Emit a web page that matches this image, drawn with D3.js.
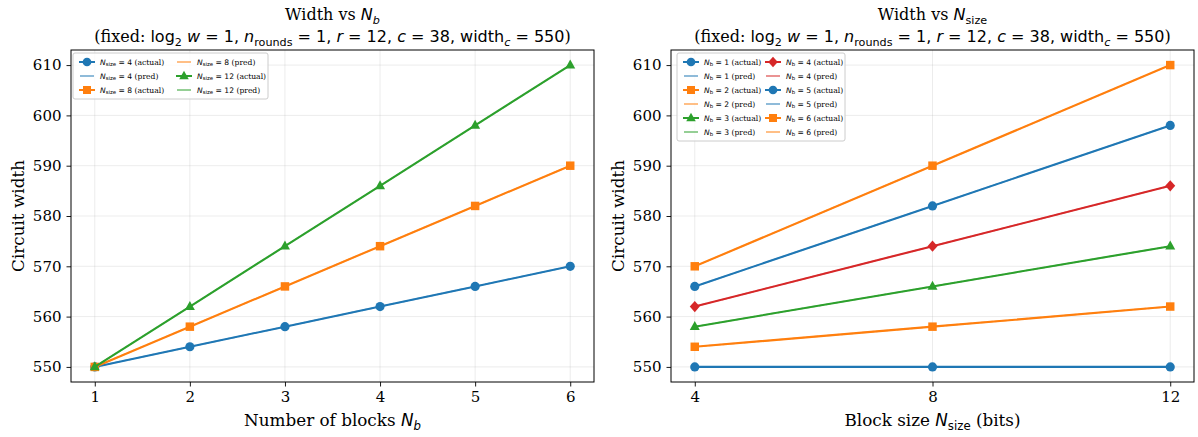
<!DOCTYPE html>
<html><head><meta charset="utf-8">
<script src="https://cdn.jsdelivr.net/npm/d3@7"></script>
<style>
body{margin:0;background:#fff;}
svg{display:block;}
</style></head>
<body>
<svg id="chart" width="1198" height="437"></svg>
<script>
// ---- data ----
const blocksX = [1, 2, 3, 4, 5, 6];
const sizeX = [4, 8, 12];
const yTicks = [550, 560, 570, 580, 590, 600, 610];

const nsizeLabels = ["4", "8", "12"];
const widthNsize4 = [550, 554, 558, 562, 566, 570];
const widthNsize8 = [550, 558, 566, 574, 582, 590];
const widthNsize12 = [550, 562, 574, 586, 598, 610];

const nbLabels = ["1", "2", "3", "4", "5", "6"];
const widthNb1 = [550, 550, 550];
const widthNb2 = [554, 558, 562];
const widthNb3 = [558, 566, 574];
const widthNb4 = [562, 574, 586];
const widthNb5 = [566, 582, 598];
const widthNb6 = [570, 590, 610];

const palette = ["#1f77b4", "#ff7f0e", "#2ca02c", "#d62728"];
const markerKinds = ["circle", "square", "triangle", "diamond"];

const svg = d3.select("#chart");
const SERIF = "'DejaVu Serif', serif";
const SANS = "'DejaVu Sans', sans-serif";

function markerPath(kind, k) {
  k = k || 1;
  if (kind === "circle") return d3.symbol(d3.symbolCircle, 66 * k * k)();
  if (kind === "square") return d3.symbol(d3.symbolSquare, 72 * k * k)();
  if (kind === "triangle") return `M0,${-5.6 * k}L${5 * k},${3.4 * k}L${-5 * k},${3.4 * k}Z`;
  return `M0,${-5.6 * k}L${5 * k},0L0,${5.6 * k}L${-5 * k},0Z`;
}

function richText(g, x, y, pieces, size, anchor) {
  const t = g.append("text").attr("x", x).attr("y", y)
    .attr("font-size", size).attr("text-anchor", anchor || "start").attr("fill", "#000");
  const sh = size * 0.22;
  let lowered = false;
  pieces.forEach(([txt, st]) => {
    const sp = t.append("tspan").text(txt);
    sp.attr("font-family", st === "s" ? SERIF : SANS);
    if (st === "i" || st === "subi") sp.attr("font-style", "italic");
    const isSub = st === "sub" || st === "subi";
    if (isSub) sp.attr("font-size", size * 0.7);
    if (isSub && !lowered) { sp.attr("dy", sh); lowered = true; }
    else if (!isSub && lowered) { sp.attr("dy", -sh); lowered = false; }
  });
  return t;
}

const subtitle = [["(fixed: ", "s"], ["log", "m"], ["2", "sub"], [" ", "m"],
  ["w", "i"], [" = 1, ", "m"], ["n", "i"], ["rounds", "sub"], [" = 1, ", "m"],
  ["r", "i"], [" = 12, ", "m"], ["c", "i"], [" = 38, width", "m"], ["c", "subi"],
  [" = 550", "m"], [")", "s"]];

function drawPanel(opts) {
  const { left, right, top, bottom, xDomain, xTicks, series, titleMain, xLabelPieces, legendCols, legendBox } = opts;
  const g = svg.append("g");
  const x = d3.scaleLinear().domain(xDomain).range([left, right]);
  const y = d3.scaleLinear().domain([547, 613]).range([bottom, top]);

  // grid
  g.append("g").selectAll("line").data(xTicks).join("line")
    .attr("x1", d => x(d)).attr("x2", d => x(d)).attr("y1", top).attr("y2", bottom)
    .attr("stroke", "#b0b0b0").attr("stroke-opacity", 0.3).attr("stroke-width", 0.8);
  g.append("g").selectAll("line").data(yTicks).join("line")
    .attr("y1", d => y(d)).attr("y2", d => y(d)).attr("x1", left).attr("x2", right)
    .attr("stroke", "#b0b0b0").attr("stroke-opacity", 0.3).attr("stroke-width", 0.8);

  // axes
  const xa = g.append("g").attr("transform", `translate(0,${bottom})`)
    .call(d3.axisBottom(x).tickValues(xTicks).tickFormat(d3.format("d")).tickSize(4.5).tickPadding(5));
  const ya = g.append("g").attr("transform", `translate(${left},0)`)
    .call(d3.axisLeft(y).tickValues(yTicks).tickFormat(d3.format("d")).tickSize(4.5).tickPadding(5));
  [xa, ya].forEach(a => {
    a.select(".domain").remove();
    a.selectAll("text").attr("font-family", SERIF).attr("font-size", 15).attr("fill", "#000");
    a.selectAll("line").attr("stroke", "#000").attr("stroke-width", 0.9);
  });
  g.append("rect").attr("x", left).attr("y", top).attr("width", right - left).attr("height", bottom - top)
    .attr("fill", "none").attr("stroke", "#000").attr("stroke-width", 1);

  const line = d3.line().x(d => x(d[0])).y(d => y(d[1]));
  series.forEach(s => {
    g.append("path").datum(s.xs.map((v, i) => [v, s.ys[i]])).attr("d", line)
      .attr("fill", "none").attr("stroke", s.color).attr("stroke-opacity", 0.5)
      .attr("stroke-width", 1.5).attr("stroke-dasharray", "5,2");
  });
  series.forEach(s => {
    const pts = s.xs.map((v, i) => [v, s.ys[i]]);
    g.append("path").datum(pts).attr("d", line)
      .attr("fill", "none").attr("stroke", s.color).attr("stroke-width", 2.1);
    g.append("g").selectAll("path").data(pts).join("path")
      .attr("transform", d => `translate(${x(d[0])},${y(d[1])})`)
      .attr("d", markerPath(s.marker)).attr("fill", s.color);
  });

  // titles
  const cx = (left + right) / 2;
  richText(g, cx, 20, titleMain, 16, "middle");
  richText(g, cx, 42, subtitle, 16, "middle");

  // x label
  richText(g, cx, 426, xLabelPieces, 16.8, "middle");
  // y label
  g.append("text").attr("transform", `translate(${left - 47},${(top + bottom) / 2}) rotate(-90)`)
    .attr("text-anchor", "middle").attr("font-family", SERIF).attr("font-size", 16.8).text("Circuit width");

  // legend
  const lb = legendBox;
  g.append("rect").attr("x", lb.x).attr("y", lb.y).attr("width", lb.w).attr("height", lb.h).attr("rx", 2)
    .attr("fill", "#fff").attr("fill-opacity", 0.8).attr("stroke", "#ccc").attr("stroke-width", 1);
  legendCols.forEach((col, ci) => {
    col.forEach((e, ri) => {
      const lx = lb.x + 6 + ci * lb.colW;
      const ly = lb.y + 9 + ri * 14;
      if (e.pred) {
        g.append("line").attr("x1", lx + 1).attr("x2", lx + 15).attr("y1", ly).attr("y2", ly)
          .attr("stroke", e.color).attr("stroke-opacity", 0.5).attr("stroke-width", 2);
      } else {
        g.append("line").attr("x1", lx).attr("x2", lx + 16).attr("y1", ly).attr("y2", ly)
          .attr("stroke", e.color).attr("stroke-width", 2);
        g.append("path").attr("transform", `translate(${lx + 8},${ly})`).attr("d", markerPath(e.marker, 0.95)).attr("fill", e.color);
      }
      const t = g.append("text").attr("x", lx + 21).attr("y", ly + 2.6).attr("font-size", 7.6);
      t.append("tspan").attr("font-family", SANS).attr("font-style", "italic").text("N");
      t.append("tspan").attr("font-family", SANS).attr("font-size", 5.4).attr("dy", 1.6).text(e.sub);
      t.append("tspan").attr("font-family", SANS).attr("dy", -1.6).text(" = " + e.val + " ");
      t.append("tspan").attr("font-family", SERIF).text(e.pred ? "(pred)" : "(actual)");
    });
  });
}

// ---- left panel ----
const leftSeriesY = [widthNsize4, widthNsize8, widthNsize12];
const leftSeries = leftSeriesY.map((ys, i) => ({ xs: blocksX, ys, color: palette[i], marker: markerKinds[i] }));
const leftEntries = [];
leftSeries.forEach((s, i) => {
  leftEntries.push({ color: s.color, marker: s.marker, sub: "size", val: nsizeLabels[i], pred: false });
  leftEntries.push({ color: s.color, marker: s.marker, sub: "size", val: nsizeLabels[i], pred: true });
});
drawPanel({
  left: 71, right: 594, top: 50, bottom: 382,
  xDomain: [0.75, 6.25], xTicks: blocksX, series: leftSeries,
  titleMain: [["Width vs ", "s"], ["N", "i"], ["b", "subi"]],
  xLabelPieces: [["Number of blocks ", "s"], ["N", "i"], ["b", "subi"]],
  legendCols: [leftEntries.slice(0, 3), leftEntries.slice(3)],
  legendBox: { x: 73, y: 53, w: 195, h: 46, colW: 97 }
});

// ---- right panel ----
const rightSeriesY = [widthNb1, widthNb2, widthNb3, widthNb4, widthNb5, widthNb6];
const rightSeries = rightSeriesY.map((ys, i) => ({ xs: sizeX, ys, color: palette[i % 4], marker: markerKinds[i % 4] }));
const rightEntries = [];
rightSeries.forEach((s, i) => {
  rightEntries.push({ color: s.color, marker: s.marker, sub: "b", val: nbLabels[i], pred: false });
  rightEntries.push({ color: s.color, marker: s.marker, sub: "b", val: nbLabels[i], pred: true });
});
drawPanel({
  left: 671, right: 1194, top: 50, bottom: 382,
  xDomain: [3.6, 12.4], xTicks: sizeX, series: rightSeries,
  titleMain: [["Width vs ", "s"], ["N", "i"], ["size", "sub"]],
  xLabelPieces: [["Block size ", "s"], ["N", "i"], ["size", "sub"], [" (bits)", "s"]],
  legendCols: [rightEntries.slice(0, 6), rightEntries.slice(6)],
  legendBox: { x: 677, y: 53, w: 168, h: 88, colW: 82 }
});
</script>
</body></html>
